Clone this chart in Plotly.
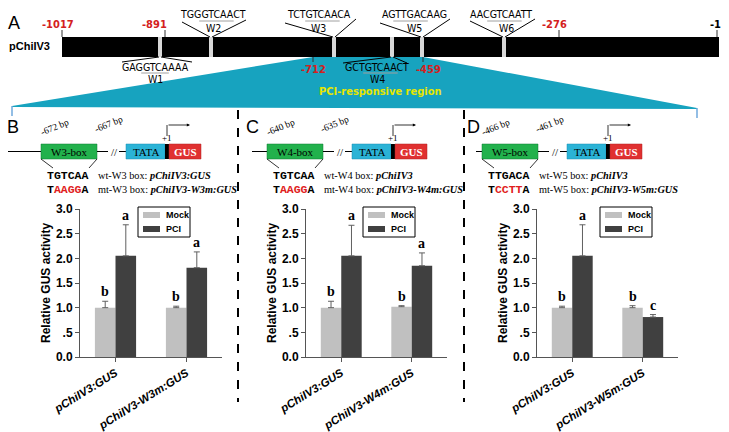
import plotly.graph_objects as go

# ---------------- data ----------------
categories_B = ["pChiIV3:GUS", "pChiIV3-W3m:GUS"]
categories_C = ["pChiIV3:GUS", "pChiIV3-W4m:GUS"]
categories_D = ["pChiIV3:GUS", "pChiIV3-W5m:GUS"]

mock_B = [1.00, 1.00]
pci_B = [2.05, 1.81]
mock_err_B = [0.13, 0.03]
pci_err_B = [0.63, 0.32]
mock_letters_B = ["b", "b"]
pci_letters_B = ["a", "a"]

mock_C = [1.00, 1.02]
pci_C = [2.05, 1.85]
mock_err_C = [0.13, 0.02]
pci_err_C = [0.62, 0.26]
mock_letters_C = ["b", "b"]
pci_letters_C = ["a", "a"]

mock_D = [1.00, 1.00]
pci_D = [2.05, 0.81]
mock_err_D = [0.03, 0.04]
pci_err_D = [0.63, 0.05]
mock_letters_D = ["b", "b"]
pci_letters_D = ["a", "c"]

ytick_vals = [0, 0.5, 1.0, 1.5, 2.0, 2.5, 3.0]
ytick_text = ["0.0", ".5", "1.0", "1.5", "2.0", "2.5", "3.0"]

series_names = ["Mock", "PCI"]

# promoter map
map_positions = ["-1017", "-891", "-276", "-1"]
map_below_positions = ["-712", "-459"]
w_names = ["W1", "W2", "W3", "W4", "W5", "W6"]
w_seqs = ["GAGGTCAAAA", "TGGGTCAACT", "TCTGTCAACA", "GCTGTCAACT", "AGTTGACAAG", "AACGTCAATT"]

W, H = 729, 432
MOCK_COLOR = "#C0C0C0"
PCI_COLOR = "#404040"
BARGAP = 0.42

fig = go.Figure()

shapes = []
annos = []


def px(x):
    return x / W


def py(y):
    return 1 - y / H


def line(x0, y0, x1, y1, color="black", width=1, dash=None):
    d = dict(type="line", xref="paper", yref="paper", x0=px(x0), y0=py(y0), x1=px(x1), y1=py(y1),
             line=dict(color=color, width=width), layer="above")
    if dash:
        d["line"]["dash"] = dash
    shapes.append(d)


def rect(x0, y0, x1, y1, fill, lc=None, lw=0):
    shapes.append(dict(type="rect", xref="paper", yref="paper", x0=px(x0), y0=py(y0),
                       x1=px(x1), y1=py(y1),
                       fillcolor=fill, line=dict(color=lc or fill, width=lw), layer="above"))


def text(x, y, t, size=11, color="black", family="Arial, Liberation Sans, sans-serif",
         angle=0, xanchor="center", yanchor="middle", weight="normal", style="normal"):
    annos.append(dict(x=px(x), y=py(y), xref="paper", yref="paper", text=t, showarrow=False,
                      xanchor=xanchor, yanchor=yanchor, textangle=angle,
                      font=dict(size=size, color=color, family=family, weight=weight, style=style)))


NARROW = "Liberation Sans Narrow, Arial Narrow, DejaVu Sans Condensed, sans-serif"
SERIF = "Times New Roman, Liberation Serif, serif"
MONO = "Courier New, Liberation Mono, monospace"
ARIAL = "Arial, Liberation Sans, sans-serif"
RED = "#D42020"

# ---------------- panel A ----------------
poly = [(12, 106), (313, 57), (423, 57), (697, 108), (697, 109), (12, 107)]
path = "M " + " L ".join(f"{px(a):.5f},{py(b):.5f}" for a, b in poly) + " Z"
shapes.append(dict(type="path", xref="paper", yref="paper", path=path,
                   fillcolor="#17A3BF", line=dict(color="#17A3BF", width=0), layer="below"))
line(12, 106, 12, 116, color="#6FA8DC", width=1.5)
line(697, 108, 697, 118, color="#6FA8DC", width=1.5)
text(380, 91, "PCI-responsive region", size=11, color="#E6E600", family=NARROW, weight="bold")

text(14, 23, "A", size=18)
text(29, 46, "pChiIV3", size=11, weight="bold")
rect(62, 37, 719, 57, "black")

top_tick_x = [62, 165, 559, 717]
top_label_x = [58, 154, 554, 715]
for i, lab in enumerate(map_positions):
    line(top_tick_x[i], 30, top_tick_x[i], 37, color="#333333", width=1)
    text(top_label_x[i], 25, lab, size=11, color=(RED if lab != "-1" else "black"),
         family=NARROW, weight="bold")
bot_tick_x = [313, 423]
for i, lab in enumerate(map_below_positions):
    line(bot_tick_x[i], 57, bot_tick_x[i], 62, color="#333333", width=1)
    text([313, 428][i], 70, lab, size=11, color=RED, family=NARROW, weight="bold")

mark_x = [160, 211, 334, 392, 422, 504]
for mx in mark_x:
    rect(mx - 2, 37, mx + 2, 57, "#D8D8D8")

callouts = [
    (155, 155, False, (122, 62), (192, 62), (3, 7)),
    (213, 213, True, (182, 22), (246, 20), (3, 8)),
    (319, 318, True, (285, 23), (356, 19), (3, 8)),
    (377, 377, False, (343, 63), (407, 63), (3, 8)),
    (414, 414, True, (380, 23), (450, 19), (2, 7)),
    (501, 506, True, (470, 21), (535, 19), (3, 8)),
]
for i, (cx, lx, above, lend, rend, ul) in enumerate(callouts):
    mx = mark_x[i]
    cw = 6.9
    x_left = cx - 5 * cw
    if above:
        text(cx, 14, w_seqs[i], size=10.5, family=NARROW)
        text(lx, 28, w_names[i], size=10.5, family=NARROW)
        line(lend[0], lend[1], mx - 1, 37, width=1)
        line(mx + 1, 37, rend[0], rend[1], width=1)
        line(x_left + ul[0] * cw, 21, x_left + ul[1] * cw, 21, color="#A0A0A0", width=1)
    else:
        text(cx, 67, w_seqs[i], size=10.5, family=NARROW)
        text(lx, 79, w_names[i], size=10.5, family=NARROW)
        line(mx - 1, 57, lend[0], lend[1], width=1)
        line(mx + 1, 57, rend[0], rend[1], width=1)
        line(x_left + ul[0] * cw, 73, x_left + ul[1] * cw, 73, color="#A0A0A0", width=1)

for dx in [238, 464]:
    line(dx, 110, dx, 402, color="black", width=2, dash="dash")

# ---------------- construct diagrams B, C, D ----------------
panels = [
    dict(letter="B", lx=13, L=41, box="W3-box", bp=("-672 bp", "-667 bp"),
         wt="TGTCAA", mt=("T", "AAGG", "A"), w="W3",
         wt_t="<i><b>pChiIV3:GUS</b></i>", mt_t="<i><b>pChiIV3-W3m:GUS</b></i>", line0=8),
    dict(letter="C", lx=252, L=267, box="W4-box", bp=("-640 bp", "-635 bp"),
         wt="TGTCAA", mt=("T", "AAGG", "A"), w="W4",
         wt_t="<i><b>pChiIV3</b></i>", mt_t="<i><b>pChiIV3-W4m:GUS</b></i>", line0=252),
    dict(letter="D", lx=473, L=482, box="W5-box", bp=("-466 bp", "-461 bp"),
         wt="TTGACA", mt=("T", "CCTT", "A"), w="W5",
         wt_t="<i><b>pChiIV3</b></i>", mt_t="<i><b>pChiIV3-W5m:GUS</b></i>", line0=476),
]
for p in panels:
    L = p["L"]
    R = L + 56
    ly = 151.5
    text(p["lx"], 127, p["letter"], size=18)
    line(p["line0"], ly, L, ly, width=1)
    rect(L, 144, R, 159, "#22B14C", lc="#0E7A30", lw=0.5)
    text((L + R) / 2, 151.5, p["box"], size=11, family=SERIF)
    line(R, ly, R + 11, ly, width=1)
    text(R + 17, ly, "//", size=11, family=SERIF)
    line(R + 22, ly, R + 29, ly, width=1)
    rect(R + 29, 144, R + 68, 159, "#2BB3D6", lc="#1A8FB0", lw=0.5)
    text(R + 48.5, 151.5, "TATA", size=11, family=SERIF)
    rect(R + 68, 144, R + 72, 159, "black")
    rect(R + 72, 144, R + 104, 159, "#E03030", lc="#B02020", lw=0.5)
    text(R + 88, 151.5, "GUS", size=11, family=SERIF, color="white", weight="bold")
    text(R + 70, 138, "+1", size=9, family=SERIF)
    line(R + 70, 136, R + 70, 125, width=0.8)
    annos.append(dict(x=px(R + 93), y=py(125), ax=-23, ay=0, xref="paper", yref="paper",
                      text="", showarrow=True, arrowhead=2,
                      arrowsize=0.8, arrowwidth=0.8, arrowcolor="black"))
    text(L + 14, 127, p["bp"][0], size=9.5, family=SERIF, angle=-22)
    text(R + 12, 124, p["bp"][1], size=9.5, family=SERIF, angle=-22)
    line(L, 159, L + 12, 168, width=0.8)
    line(R, 159, R - 8, 168, width=0.8)
    text(L + 27, 175, p["wt"], size=11.5, family=MONO, weight="bold")
    text(L + 27, 189, p["mt"][0] + "<span style='color:#E02020'>" + p["mt"][1] + "</span>" + p["mt"][2],
         size=11.5, family=MONO, weight="bold")
    text(L + 55, 175, "wt-" + p["w"] + " box: " + p["wt_t"], size=10.3, family=SERIF, xanchor="left")
    text(L + 55, 189, "mt-" + p["w"] + " box: " + p["mt_t"], size=10.3, family=SERIF, xanchor="left")

# ---------------- bar charts ----------------
chart_data = [
    (categories_B, mock_B, pci_B, mock_err_B, pci_err_B, mock_letters_B, pci_letters_B),
    (categories_C, mock_C, pci_C, mock_err_C, pci_err_C, mock_letters_C, pci_letters_C),
    (categories_D, mock_D, pci_D, mock_err_D, pci_err_D, mock_letters_D, pci_letters_D),
]
x_domains = [(80, 222), (306, 447), (537, 678)]
legend_x = [138, 363, 600]
ytitle_x = [46, 272, 503]
y_bottom, y_top = 357, 209

for k, (cats, mock, pci, me, pe, ml, pl) in enumerate(chart_data):
    ax = "" if k == 0 else str(k + 1)
    for name, vals, errs, color in [("Mock", mock, me, MOCK_COLOR), ("PCI", pci, pe, PCI_COLOR)]:
        fig.add_trace(go.Bar(
            x=cats, y=vals, name=name, marker=dict(color=color, line=dict(width=0)),
            error_y=dict(type="data", array=errs, arrayminus=[0] * len(errs), symmetric=False,
                         color="#606060", thickness=1, width=3),
            xaxis="x" + ax, yaxis="y" + ax, showlegend=False,
        ))
    bw = (1 - BARGAP) / 2
    for j in range(len(cats)):
        for off, vals, errs, labs in [(-bw / 2, mock, me, ml), (bw / 2, pci, pe, pl)]:
            annos.append(dict(x=j + off, y=vals[j] + errs[j], xref="x" + ax, yref="y" + ax,
                              text=labs[j], showarrow=False, yanchor="bottom", yshift=0,
                              font=dict(family=SERIF, size=14, color="black", weight="bold")))
    d0, d1 = x_domains[k]
    axis_common = dict(showline=True, linecolor="#555555", linewidth=1, ticks="outside",
                       ticklen=4, tickcolor="#555555", showgrid=False, zeroline=False,
                       automargin=False)
    fig.update_layout(**{
        "xaxis" + ax: dict(domain=[d0 / W, d1 / W], anchor="y" + ax, type="category",
                           tickangle=-32, range=[-0.5, 1.5],
                           tickfont=dict(family=ARIAL, size=11.5, color="black",
                                         weight="bold", style="italic"), **axis_common),
        "yaxis" + ax: dict(domain=[1 - y_bottom / H, 1 - y_top / H], anchor="x" + ax,
                           range=[0, 3], tickvals=ytick_vals, ticktext=ytick_text,
                           tickfont=dict(family=ARIAL, size=12, color="black",
                                         weight="bold"), **axis_common),
    })
    text(ytitle_x[k], 283, "Relative GUS activity", size=12, angle=-90, weight="bold")
    lx0 = legend_x[k]
    shapes.append(dict(type="rect", xref="paper", yref="paper", x0=px(lx0), y0=py(207),
                       x1=px(lx0 + 52), y1=py(237),
                       fillcolor="white", line=dict(color="black", width=1), layer="above"))
    for r, (nm, col) in enumerate(zip(series_names, [MOCK_COLOR, PCI_COLOR])):
        yy = 215 + r * 14
        rect(lx0 + 5, yy - 3, lx0 + 22, yy + 3, col)
        text(lx0 + 26, yy, nm, size=9, weight="bold", xanchor="left")

fig.update_layout(
    width=W, height=H, margin=dict(l=0, r=0, t=0, b=0, autoexpand=False),
    paper_bgcolor="white", plot_bgcolor="rgba(0,0,0,0)",
    barmode="group", bargap=BARGAP, bargroupgap=0, showlegend=False,
    shapes=shapes, annotations=annos,
)

fig.write_html("out.html", config={"displayModeBar": False},
               post_script="document.body.style.margin='0';")
